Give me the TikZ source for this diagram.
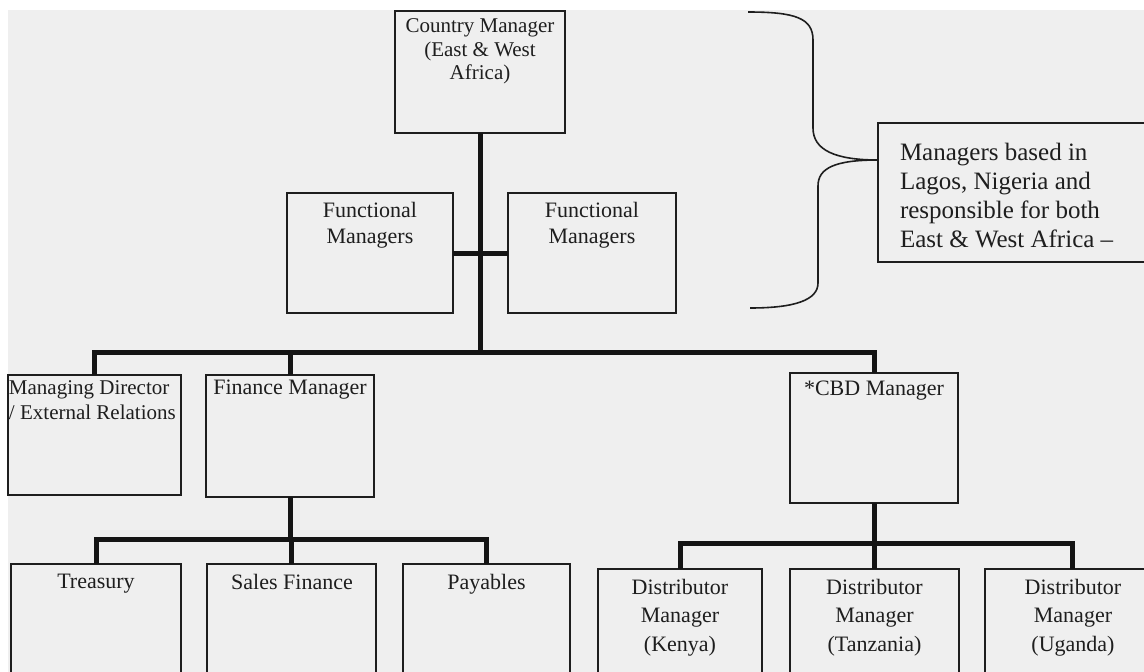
\documentclass[tikz,border=0pt]{standalone}
\usepackage{fontspec}
\setmainfont{Liberation Serif}
\definecolor{paper}{RGB}{239,239,239}
\definecolor{ink}{RGB}{30,30,30}
\begin{document}
\begin{tikzpicture}[x=1pt,y=-1pt,
  box/.style={draw=ink, line width=1.5pt, inner sep=0pt, outer sep=0pt, anchor=north west},
  txt/.style={inner sep=0pt, outer sep=0pt, text=ink, align=center, anchor=north, font=\fontsize{22}{26}\selectfont},
  conn/.style={draw=black!92, line width=5pt, line join=miter},
  brace/.style={draw=ink, line width=1.6pt}]
\useasboundingbox (0,0) rectangle (1144,672);
\fill[white] (0,0) rectangle (1144,672);
\fill[paper] (8,10) rectangle (1144,672);
\begin{scope}
\clip (0,0) rectangle (1144,672);
% boxes
\node[box, minimum width=170pt, minimum height=122pt] (cm) at (395,11) {};
\node[box, minimum width=166pt, minimum height=120pt] (fm1) at (287,193) {};
\node[box, minimum width=168pt, minimum height=120pt] (fm2) at (508,193) {};
\node[box, minimum width=173pt, minimum height=120pt] (md) at (8,375) {};
\node[box, minimum width=168pt, minimum height=122pt] (fin) at (206,375) {};
\node[box, minimum width=168pt, minimum height=130pt] (cbd) at (790,373) {};
\node[box, minimum width=170pt, minimum height=140pt] (tre) at (11,564) {};
\node[box, minimum width=169pt, minimum height=140pt] (sf) at (207,564) {};
\node[box, minimum width=167pt, minimum height=140pt] (pay) at (403,564) {};
\node[box, minimum width=164pt, minimum height=140pt] (dk) at (598,569) {};
\node[box, minimum width=169pt, minimum height=140pt] (dt) at (790,569) {};
\node[box, minimum width=175pt, minimum height=140pt] (du) at (985,569) {};
\node[box, minimum width=282pt, minimum height=139pt] (mgr) at (878,123) {};
% texts
\node[txt, font=\fontsize{21}{23.5}\selectfont] (cmt) at (480,18.7) {Country Manager\\(East \& West\\Africa)};
\node[txt] (fm1t) at (370,202) {Functional\\Managers};
\node[txt] (fm2t) at (592,202) {Functional\\Managers};
\node[txt, anchor=north west, align=left, font=\fontsize{21}{25}\selectfont] (mdt) at (9,380.7) {Managing Director\\/ External Relations};
\node[txt] (fint) at (290,380) {Finance Manager};
\node[txt] (cbdt) at (874,381) {*CBD Manager};
\node[txt] (tret) at (96,574) {Treasury};
\node[txt] (sft) at (292,574) {Sales Finance};
\node[txt] (payt) at (486.5,574) {Payables};
\node[txt, font=\fontsize{22}{28.5}\selectfont] (dkt) at (680,579) {Distributor\\Manager\\(Kenya)};
\node[txt, font=\fontsize{22}{28.5}\selectfont] (dtt) at (874.5,579) {Distributor\\Manager\\(Tanzania)};
\node[txt, font=\fontsize{22}{28.5}\selectfont] (dut) at (1073,579) {Distributor\\Manager\\(Uganda)};
\node[txt, anchor=north west, align=left, font=\fontsize{25}{29}\selectfont] (mgrt) at (900,143) {Managers based in\\Lagos, Nigeria and\\responsible for both\\East \& West Africa –};
% connectors
\coordinate (b1) at (480,352);
\draw[conn] (cm.south) -- (b1);
\draw[conn] (md.north) |- (b1) -| (cbd.north);
\draw[conn] (fin.north) -- (fin.north |- b1);
\draw[conn] (fm1.east) -- (fm2.west);
\coordinate (b2) at (290,539);
\draw[conn] (fin.south) -- (b2);
\draw[conn] (tre.north) |- (b2) -| (pay.north);
\draw[conn] (sf.north) -- (sf.north |- b2);
\coordinate (b3) at (874,543);
\draw[conn] (cbd.south) -- (b3);
\draw[conn] (dk.north) |- (b3) -| (du.north);
\draw[conn] (dt.north) -- (dt.north |- b3);
% brace
\coordinate (tip) at (878,160);
\coordinate (btop) at (748,12);
\coordinate (bbot) at (750,308);
\draw[brace] (btop) .. controls (795,12) and (813,18) .. (813,40) -- (813,128) .. controls (813,150) and (835,160) .. (tip);
\draw[brace] (tip) .. controls (835,160) and (818,168) .. (818,186) -- (818,283) .. controls (818,300) and (795,308) .. (bbot);
\end{scope}
\end{tikzpicture}
\end{document}
